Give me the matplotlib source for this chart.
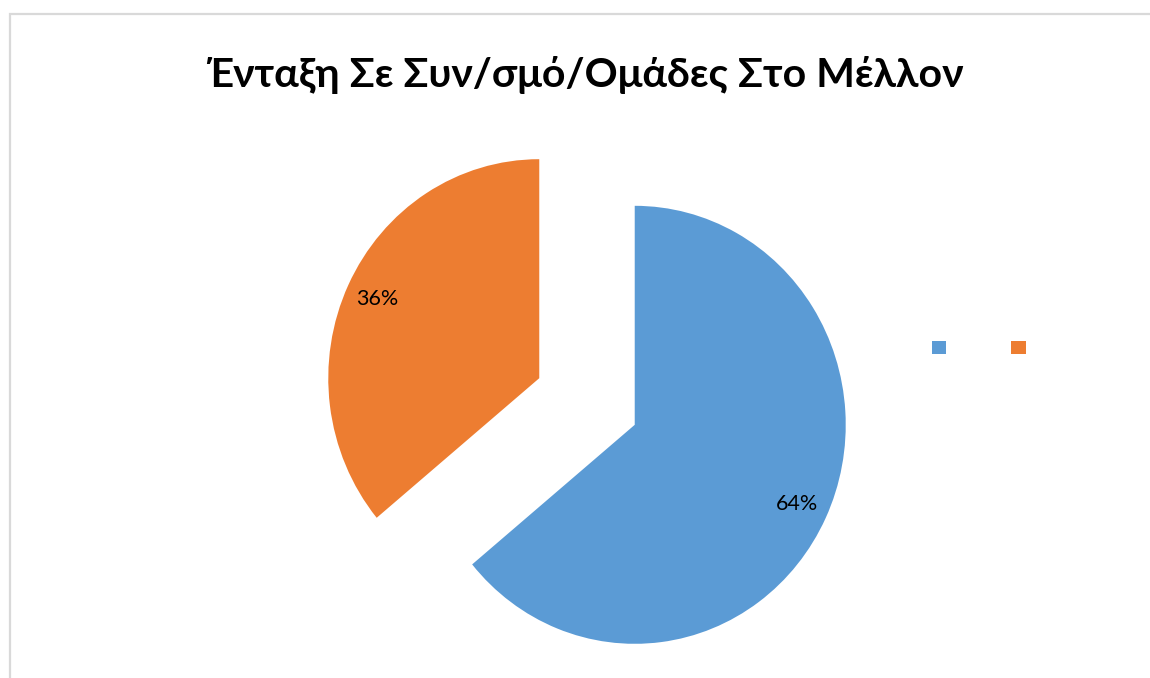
import matplotlib
matplotlib.use("Agg")
import matplotlib.pyplot as plt
from matplotlib.patches import Rectangle, Patch

plt.rcParams['font.family'] = ['Lato', 'DejaVu Sans']

title = "Ένταξη Σε Συν/σμό/Ομάδες Στο Μέλλον"
categories = ["", ""]
values = [64, 36]
colors = ["#5B9BD5", "#ED7D31"]

W, H = 1150, 678
fig = plt.figure(figsize=(W / 100, H / 100), dpi=100)

# chart frame (light gray border at top and left)
fig.patches.append(Rectangle((10 / W, -0.2), 1.2, 1.2 - 14 / H,
                             transform=fig.transFigure, fill=False,
                             edgecolor="#d9d9d9", linewidth=1.6))

cx, cy = 587, 401.5
rx, ry = 211, 219
xl, yl = 1.3, 1.25
ax = fig.add_axes([(cx - xl * rx) / W, (H - (cy + yl * ry)) / H,
                   2 * xl * rx / W, 2 * yl * ry / H])

wedges, texts, autotexts = ax.pie(values, colors=colors, startangle=90,
                                  counterclock=False, explode=[0.25, 0.25],
                                  autopct='%d%%', pctdistance=0.85,
                                  frame=True,
                                  textprops=dict(fontsize=15.5, color='#000000'))
ax.set_xlim(-xl, xl)
ax.set_ylim(-yl, yl)
ax.set_aspect('auto')
ax.axis('off')
for w in wedges:
    w.set_clip_on(False)

fig.text(585 / W, 1 - 75 / H, title, ha='center', va='center',
         fontsize=29.5, fontweight='bold', color='#000000')

handles = [Patch(facecolor=c, edgecolor='none') for c in colors]
fig.legend(handles, categories, loc='center', ncol=2,
           bbox_to_anchor=(981.5 / W, 1 - 348 / H), frameon=False,
           handlelength=1.0, handleheight=1.0, handletextpad=0.4,
           columnspacing=4.05, fontsize=10.5)

fig.savefig("out.png", dpi=100, facecolor='white')
